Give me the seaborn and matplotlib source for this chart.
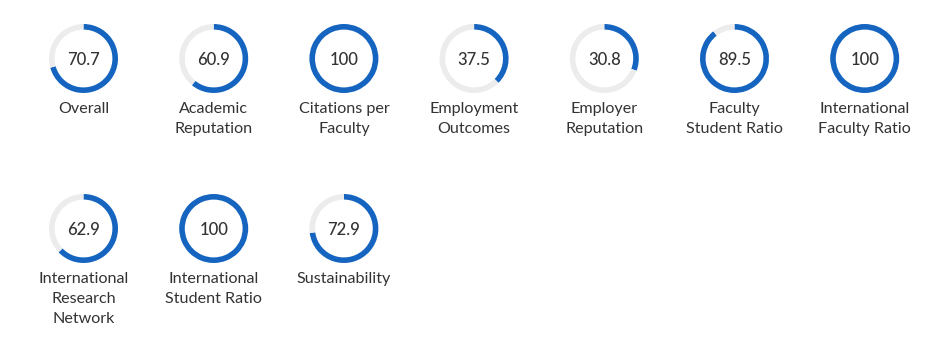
import matplotlib
matplotlib.use("Agg")
import matplotlib.pyplot as plt
import seaborn as sns

categories = [
    "Overall", "Academic\nReputation", "Citations per\nFaculty",
    "Employment\nOutcomes", "Employer\nReputation", "Faculty\nStudent Ratio",
    "International\nFaculty Ratio", "International\nResearch\nNetwork",
    "International\nStudent Ratio", "Sustainability",
]
scores = [70.7, 60.9, 100, 37.5, 30.8, 89.5, 100, 62.9, 100, 72.9]
value_labels = ["70.7", "60.9", "100", "37.5", "30.8", "89.5", "100", "62.9", "100", "72.9"]

sns.set_theme(style="white")
plt.rcParams["font.family"] = ["Lato", "DejaVu Sans"]

W, H = 934, 346
fig = plt.figure(figsize=(W / 100, H / 100), dpi=100)
ax = fig.add_axes([0, 0, 1, 1])

blue = "#1565c0"
track = "#ececec"
text_col = "#333333"

per_row = 7
x0, dx = 83.5, 130.2
row_y = [58.5, 228.5]
radius = 34.5
ring_w = 5.6
label_gap = 50.5   # ring centre to first caption line
line_h = 20        # caption line height

for i, (cat, val, lab) in enumerate(zip(categories, scores, value_labels)):
    r, c = divmod(i, per_row)
    cx = x0 + c * dx
    cy = H - row_y[r]
    parts = [val, 100 - val] if val < 100 else [100]
    cols = [blue, track] if val < 100 else [blue]
    ax.pie(parts, colors=cols, center=(cx, cy), radius=radius,
           startangle=90, counterclock=False,
           wedgeprops=dict(width=ring_w, linewidth=0))
    ax.text(cx, cy - 1.5, lab, ha="center", va="center", fontsize=12,
            color=text_col, fontweight="medium")
    for k, line in enumerate(cat.split("\n")):
        ax.text(cx, cy - label_gap - k * line_h, line, ha="center",
                va="center", fontsize=11.6, color=text_col)

ax.set_xlim(0, W)
ax.set_ylim(0, H)
ax.set_aspect("equal")
ax.axis("off")
fig.savefig("out.png", dpi=100, facecolor="white")
